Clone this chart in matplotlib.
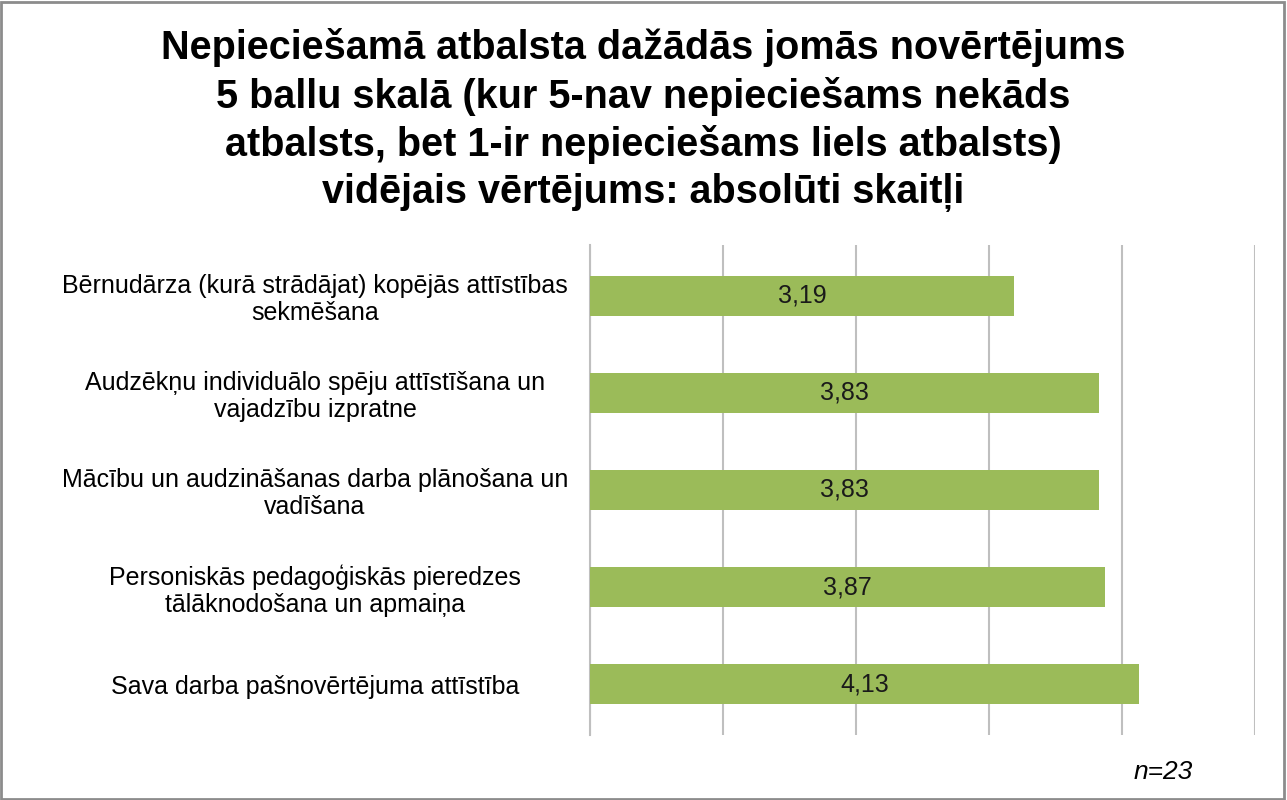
import matplotlib.pyplot as plt
from matplotlib.patches import Rectangle

title = ("Nepieciešamā atbalsta dažādās jomās novērtējums\n"
         "5 ballu skalā (kur 5-nav nepieciešams nekāds\n"
         "atbalsts, bet 1-ir nepieciešams liels atbalsts)\n"
         "vidējais vērtējums: absolūti skaitļi")

categories = [
    "Bērnudārza (kurā strādājat) kopējās attīstības\nsekmēšana",
    "Audzēkņu individuālo spēju attīstīšana un\nvajadzību izpratne",
    "Mācību un audzināšanas darba plānošana un\nvadīšana",
    "Personiskās pedagoģiskās pieredzes\ntālāknodošana un apmaiņa",
    "Sava darba pašnovērtējuma attīstība",
]
values = [3.19, 3.83, 3.83, 3.87, 4.13]
value_labels = ["3,19", "3,83", "3,83", "3,87", "4,13"]
x_ticks = [0, 1, 2, 3, 4, 5]

plt.rcParams['font.family'] = ['Liberation Sans', 'DejaVu Sans']

fig = plt.figure(figsize=(12.87, 8), dpi=100)
ax = fig.add_axes([590 / 1287, 1 - 735 / 800, 665 / 1287, 490 / 800])

ypos = list(range(len(categories)))
ax.barh(ypos, values, height=0.41, color="#9BBB59", zorder=3)
for y, v, lab in zip(ypos, values, value_labels):
    ax.text(v / 2, y, lab, ha="center", va="center", fontsize=18, color="#1a1a1a", zorder=4)

ax.set_xlim(0, 5)
ax.set_ylim(4.525, -0.525)
ax.set_xticks(x_ticks)
ax.set_xticklabels([])
ax.tick_params(axis="x", length=0)
ax.xaxis.grid(True, color="#bfbfbf", linewidth=1.5, zorder=0)
ax.set_yticks(ypos)
ax.set_yticklabels(categories, fontsize=18, ha="center", multialignment="center",
                   linespacing=1.15)
ax.tick_params(axis="y", length=0, pad=198)
for s in ["top", "right", "bottom"]:
    ax.spines[s].set_visible(False)
ax.spines["left"].set_color("#bfbfbf")
ax.spines["left"].set_linewidth(1.5)

fig.text(0.5, 1 - 120 / 800, title, ha="center", va="center", fontsize=28.5,
         fontweight="bold", linespacing=1.3)
fig.text(1163 / 1287, 1 - 772 / 800, "n=23", ha="center", va="center",
         fontsize=19, style="italic")

fig.patches.append(Rectangle((0.001, 0.001), 0.997, 0.997, transform=fig.transFigure,
                             fill=False, edgecolor="#8c8c8c", linewidth=2))

fig.savefig("out.png", dpi=100)
